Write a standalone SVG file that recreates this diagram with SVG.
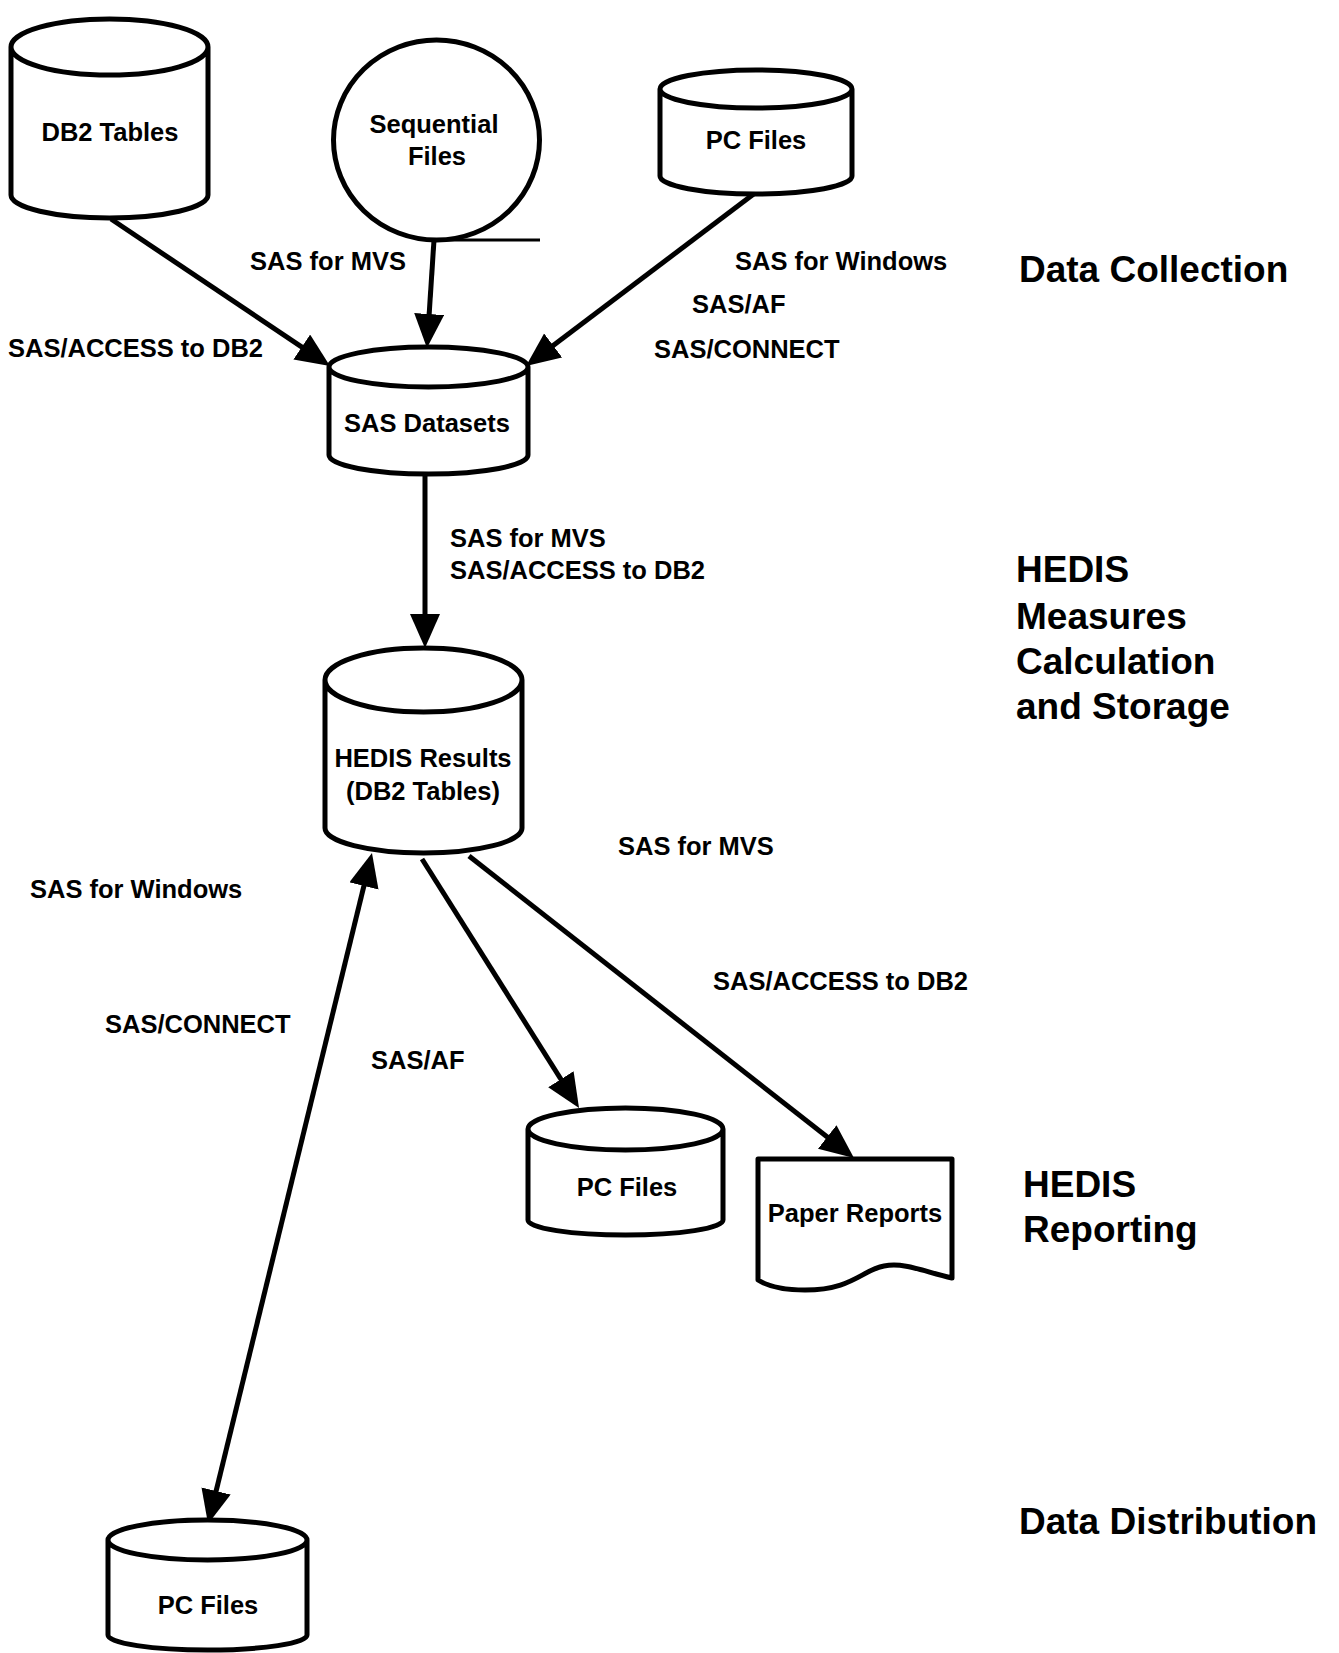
<svg xmlns="http://www.w3.org/2000/svg" width="1339" height="1653" viewBox="0 0 1339 1653">
<style>
.shape{fill:#fff;stroke:#000;stroke-width:5;stroke-linejoin:round}
.lbl{font-family:"Liberation Sans",Arial,sans-serif;font-weight:bold;font-size:25.5px;fill:#000}
.ttl{font-family:"Liberation Sans",Arial,sans-serif;font-weight:bold;font-size:37px;fill:#000}
.mid{text-anchor:middle}
.con{fill:none;stroke:#000;stroke-width:5}
</style>
<defs>
<marker id="ah" markerUnits="userSpaceOnUse" markerWidth="36" markerHeight="32" refX="24" refY="15" orient="auto-start-reverse" viewBox="0 0 36 32">
<path d="M0,0 L34,15 L0,30 Z" fill="#000"/>
</marker>
</defs>
<rect width="1339" height="1653" fill="#fff"/>

<g id="connectors">
<line class="con" x1="111" y1="219" x2="321.7" y2="360.4" marker-end="url(#ah)"/>
<line class="con" x1="434" y1="240" x2="427.6" y2="338" marker-end="url(#ah)"/>
<line class="con" x1="755" y1="193" x2="534" y2="360" marker-end="url(#ah)"/>
<line class="con" x1="425" y1="474" x2="425" y2="638" marker-end="url(#ah)"/>
<line class="con" x1="422" y1="859" x2="573.7" y2="1099.5" marker-end="url(#ah)"/>
<line class="con" x1="469" y1="856" x2="846.1" y2="1151.8" marker-end="url(#ah)"/>
<line class="con" x1="369.6" y1="862.7" x2="210.4" y2="1514.3" marker-start="url(#ah)" marker-end="url(#ah)"/>
</g>

<g id="db2-tables">
<path class="shape" d="M11,47 A98.5,28 0 0 1 208,47 V195 A98.5,23 0 0 1 11,195 Z M11,47 A98.5,28 0 0 0 208,47"/>
<text class="lbl mid" x="110" y="141">DB2 Tables</text>
</g>

<g id="sequential-files">
<ellipse class="shape" cx="436.5" cy="140" rx="103" ry="100" stroke-width="4"/>
<line x1="437" y1="240" x2="540" y2="240" stroke="#000" stroke-width="3"/>
<text class="lbl mid" x="434" y="133">Sequential</text>
<text class="lbl mid" x="437" y="165">Files</text>
</g>

<g id="pc-files-top">
<path class="shape" d="M660,89 A96,19 0 0 1 852,89 V176 A96,18 0 0 1 660,176 Z M660,89 A96,19 0 0 0 852,89"/>
<text class="lbl mid" x="756" y="149">PC Files</text>
</g>

<g id="sas-datasets">
<path class="shape" d="M329,367 A99.5,20 0 0 1 528,367 V455 A99.5,19 0 0 1 329,455 Z M329,367 A99.5,20 0 0 0 528,367"/>
<text class="lbl mid" x="427" y="432">SAS Datasets</text>
</g>

<g id="hedis-results">
<path class="shape" d="M325,680 A98.5,32 0 0 1 522,680 V828 A98.5,25 0 0 1 325,828 Z M325,680 A98.5,32 0 0 0 522,680"/>
<text class="lbl mid" x="423" y="767">HEDIS Results</text>
<text class="lbl mid" x="423" y="800">(DB2 Tables)</text>
</g>

<g id="pc-files-mid">
<path class="shape" d="M528,1129 A97.5,21 0 0 1 723,1129 V1220 A97.5,15 0 0 1 528,1220 Z M528,1129 A97.5,21 0 0 0 723,1129"/>
<text class="lbl mid" x="627" y="1196">PC Files</text>
</g>

<g id="paper-reports">
<path class="shape" d="M758,1159 H952 V1278 C925,1272 905,1262 884,1266 C862,1270 852,1290 805,1290 C782,1290 766,1285 758,1280 Z"/>
<text class="lbl mid" x="855" y="1222">Paper Reports</text>
</g>

<g id="pc-files-bottom">
<path class="shape" d="M108,1540 A99.5,20 0 0 1 307,1540 V1635 A99.5,15 0 0 1 108,1635 Z M108,1540 A99.5,20 0 0 0 307,1540"/>
<text class="lbl mid" x="208" y="1614">PC Files</text>
</g>

<g id="labels">
<text class="lbl mid" x="328" y="270">SAS for MVS</text>
<text class="lbl" x="8" y="357">SAS/ACCESS to DB2</text>
<text class="lbl" x="735" y="270">SAS for Windows</text>
<text class="lbl" x="692" y="313">SAS/AF</text>
<text class="lbl" x="654" y="358">SAS/CONNECT</text>
<text class="lbl" x="450" y="547">SAS for MVS</text>
<text class="lbl" x="450" y="579">SAS/ACCESS to DB2</text>
<text class="lbl" x="618" y="855">SAS for MVS</text>
<text class="lbl" x="30" y="898">SAS for Windows</text>
<text class="lbl" x="713" y="990">SAS/ACCESS to DB2</text>
<text class="lbl" x="105" y="1033">SAS/CONNECT</text>
<text class="lbl" x="371" y="1069">SAS/AF</text>
</g>

<g id="stage-titles">
<text class="ttl" x="1019" y="282">Data Collection</text>
<text class="ttl" x="1016" y="582">HEDIS</text>
<text class="ttl" x="1016" y="629">Measures</text>
<text class="ttl" x="1016" y="674">Calculation</text>
<text class="ttl" x="1016" y="719">and Storage</text>
<text class="ttl" x="1023" y="1197">HEDIS</text>
<text class="ttl" x="1023" y="1242">Reporting</text>
<text class="ttl" x="1019" y="1534">Data Distribution</text>
</g>
</svg>
